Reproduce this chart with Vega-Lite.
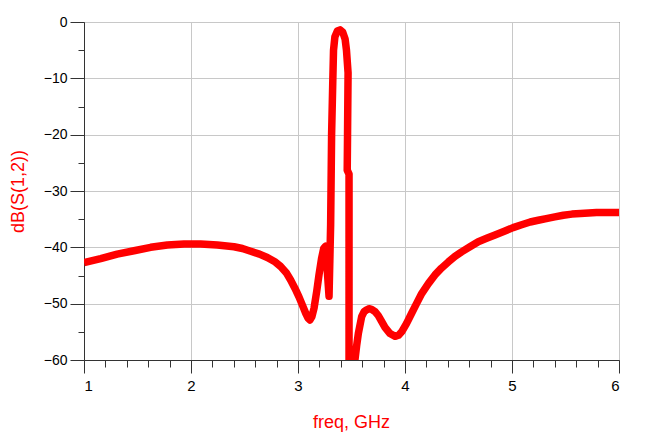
{
  "$schema": "https://vega.github.io/schema/vega-lite/v6.json",
  "width": 535,
  "height": 338,
  "autosize": "none",
  "padding": {"left": 84, "top": 22, "right": 26, "bottom": 77},
  "background": "white",
  "data": {
    "values": [
      {"freq": 1.0, "db": -42.7}, {"freq": 1.156, "db": -42.0}, {"freq": 1.31, "db": -41.2},
      {"freq": 1.467, "db": -40.6}, {"freq": 1.623, "db": -40.0}, {"freq": 1.779, "db": -39.6},
      {"freq": 1.935, "db": -39.4}, {"freq": 2.09, "db": -39.4}, {"freq": 2.246, "db": -39.6},
      {"freq": 2.402, "db": -39.9}, {"freq": 2.48, "db": -40.2}, {"freq": 2.558, "db": -40.7},
      {"freq": 2.64, "db": -41.2}, {"freq": 2.713, "db": -41.8}, {"freq": 2.78, "db": -42.5},
      {"freq": 2.838, "db": -43.4}, {"freq": 2.89, "db": -44.5}, {"freq": 2.931, "db": -45.8},
      {"freq": 2.972, "db": -47.3}, {"freq": 3.009, "db": -48.8}, {"freq": 3.042, "db": -50.3},
      {"freq": 3.072, "db": -51.7}, {"freq": 3.095, "db": -52.6}, {"freq": 3.112, "db": -52.9},
      {"freq": 3.13, "db": -52.3}, {"freq": 3.15, "db": -50.8}, {"freq": 3.175, "db": -47.8},
      {"freq": 3.196, "db": -44.9}, {"freq": 3.22, "db": -42.0}, {"freq": 3.24, "db": -40.2},
      {"freq": 3.258, "db": -39.8}, {"freq": 3.29, "db": -48.7}, {"freq": 3.305, "db": -36.0},
      {"freq": 3.314, "db": -20.0}, {"freq": 3.325, "db": -10.6}, {"freq": 3.332, "db": -5.0},
      {"freq": 3.345, "db": -2.6}, {"freq": 3.368, "db": -1.6}, {"freq": 3.393, "db": -1.4},
      {"freq": 3.418, "db": -1.8}, {"freq": 3.44, "db": -3.0}, {"freq": 3.453, "db": -5.0},
      {"freq": 3.468, "db": -9.0}, {"freq": 3.463, "db": -20.0}, {"freq": 3.46, "db": -26.3},
      {"freq": 3.477, "db": -27.0}, {"freq": 3.477, "db": -66.0}, {"freq": 3.52, "db": -66.0},
      {"freq": 3.532, "db": -60.0}, {"freq": 3.548, "db": -57.5}, {"freq": 3.564, "db": -55.3},
      {"freq": 3.595, "db": -52.3}, {"freq": 3.618, "db": -51.4}, {"freq": 3.641, "db": -51.1},
      {"freq": 3.665, "db": -50.9}, {"freq": 3.688, "db": -51.0}, {"freq": 3.72, "db": -51.4},
      {"freq": 3.75, "db": -52.1}, {"freq": 3.78, "db": -53.1}, {"freq": 3.813, "db": -54.2},
      {"freq": 3.86, "db": -55.3}, {"freq": 3.906, "db": -55.8}, {"freq": 3.94, "db": -55.6},
      {"freq": 3.969, "db": -55.0}, {"freq": 4.015, "db": -53.5}, {"freq": 4.062, "db": -51.7},
      {"freq": 4.11, "db": -49.9}, {"freq": 4.156, "db": -48.2}, {"freq": 4.22, "db": -46.4},
      {"freq": 4.28, "db": -44.9}, {"freq": 4.34, "db": -43.7}, {"freq": 4.405, "db": -42.6},
      {"freq": 4.467, "db": -41.6}, {"freq": 4.529, "db": -40.8}, {"freq": 4.607, "db": -39.9},
      {"freq": 4.685, "db": -39.0}, {"freq": 4.763, "db": -38.4}, {"freq": 4.841, "db": -37.8},
      {"freq": 4.934, "db": -37.1}, {"freq": 5.01, "db": -36.5}, {"freq": 5.09, "db": -36.0},
      {"freq": 5.17, "db": -35.5}, {"freq": 5.245, "db": -35.2}, {"freq": 5.32, "db": -34.9},
      {"freq": 5.4, "db": -34.6}, {"freq": 5.48, "db": -34.3}, {"freq": 5.56, "db": -34.1},
      {"freq": 5.64, "db": -34.0}, {"freq": 5.79, "db": -33.8}, {"freq": 6.0, "db": -33.8}
    ]
  },
  "layer": [
    {
      "mark": {"type": "line", "color": "#ff0000", "strokeWidth": 7.5, "strokeJoin": "round", "strokeCap": "butt", "clip": true},
      "encoding": {
        "x": {
          "field": "freq",
          "type": "quantitative",
          "scale": {"domain": [1, 6], "nice": false, "zero": false},
          "axis": {
            "orient": "bottom",
            "title": "freq, GHz",
            "values": [1, 2, 3, 4, 5, 6],
            "tickSize": 13,
            "labelPadding": 5,
            "labelFontSize": 15,
            "titleX": 267,
            "titleY": 67,
            "titleBaseline": "alphabetic",
            "titleAlign": "center"
          }
        },
        "y": {
          "field": "db",
          "type": "quantitative",
          "scale": {"domain": [-60, 0], "nice": false, "zero": false},
          "axis": {
            "orient": "left",
            "title": "dB(S(1,2))",
            "values": [0, -10, -20, -30, -40, -50, -60],
            "tickSize": 14,
            "labelPadding": 3,
            "titleX": -66,
            "titleY": 169,
            "titleAngle": -90,
            "titleAlign": "center",
            "titleBaseline": "middle"
          }
        },
        "order": {"value": null}
      }
    },
    {
      "mark": {"type": "line", "opacity": 0},
      "encoding": {
        "x": {
          "field": "freq",
          "type": "quantitative",
          "scale": {"domain": [1, 6], "nice": false, "zero": false},
          "axis": {
            "orient": "bottom",
            "title": null,
            "values": [1.2, 1.4, 1.6, 1.8, 2.2, 2.4, 2.6, 2.8, 3.2, 3.4, 3.6, 3.8, 4.2, 4.4, 4.6, 4.8, 5.2, 5.4, 5.6, 5.8],
            "labels": false,
            "grid": false,
            "domain": false,
            "tickSize": 7
          }
        },
        "y": {
          "field": "db",
          "type": "quantitative",
          "scale": {"domain": [-60, 0], "nice": false, "zero": false},
          "axis": {
            "orient": "left",
            "title": null,
            "values": [-5, -15, -25, -35, -45, -55],
            "labels": false,
            "grid": false,
            "domain": false,
            "tickSize": 6
          }
        },
        "order": {"value": null}
      }
    }
  ],
  "resolve": {"axis": {"x": "independent", "y": "independent"}},
  "config": {
    "view": {"stroke": "#000000", "strokeWidth": 1},
    "font": "Liberation Sans",
    "axis": {
      "domainColor": "#333333",
      "tickColor": "#333333",
      "gridColor": "#c8c8c8",
      "gridWidth": 1,
      "labelFont": "Liberation Sans",
      "labelFontSize": 14,
      "labelColor": "#000000",
      "titleFont": "Liberation Sans",
      "titleFontSize": 18,
      "titleFontWeight": "normal",
      "titleColor": "#ff0000"
    }
  }
}
